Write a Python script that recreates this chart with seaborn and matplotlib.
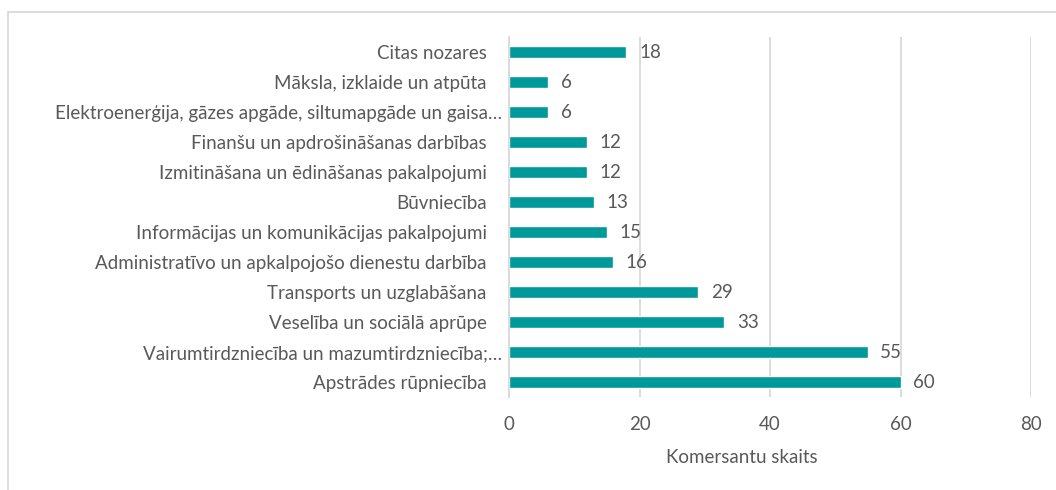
import matplotlib
matplotlib.use("Agg")
import matplotlib.pyplot as plt
import matplotlib.transforms as mtransforms
from matplotlib.lines import Line2D
import seaborn as sns
import pandas as pd

categories = [
    "Citas nozares",
    "Māksla, izklaide un atpūta",
    "Elektroenerģija, gāzes apgāde, siltumapgāde un gaisa…",
    "Finanšu un apdrošināšanas darbības",
    "Izmitināšana un ēdināšanas pakalpojumi",
    "Būvniecība",
    "Informācijas un komunikācijas pakalpojumi",
    "Administratīvo un apkalpojošo dienestu darbība",
    "Transports un uzglabāšana",
    "Veselība un sociālā aprūpe",
    "Vairumtirdzniecība un mazumtirdzniecība;…",
    "Apstrādes rūpniecība",
]
values = [18, 6, 6, 12, 12, 13, 15, 16, 29, 33, 55, 60]
xticks = [0, 20, 40, 60, 80]
xlabel = "Komersantu skaits"

sns.set_theme(style="white")
plt.rcParams["font.family"] = ["Lato", "DejaVu Sans"]

TEXT = "#595959"
GRID = "#d9d9d9"
BAR = "#009999"
FS = 13.5

fig = plt.figure(figsize=(10.56, 4.9), dpi=100)
ax = fig.add_axes([509/1056, 1-397/490, (1031-509)/1056, (397-37)/490])

df = pd.DataFrame({"cat": categories, "val": values})
sns.barplot(data=df, x="val", y="cat", color=BAR, width=0.37, ax=ax,
            saturation=1, orient="h")

ax.set_xlim(0, 80)
ax.set_xticks(xticks)
ax.set_ylim(len(categories) - 0.5, -0.5)
ax.grid(axis="x", color=GRID, linewidth=1.3)
ax.grid(axis="y", visible=False)
ax.set_axisbelow(True)
for s in ["top", "right", "bottom"]:
    ax.spines[s].set_visible(False)
ax.spines["left"].set_color(GRID)
ax.spines["left"].set_linewidth(1.3)

ax.tick_params(axis="y", length=0, pad=16, labelsize=FS, labelcolor=TEXT)
ax.tick_params(axis="x", length=0, pad=14, labelsize=FS, labelcolor=TEXT)
ax.set_ylabel("")
ax.set_xlabel(xlabel, fontsize=FS, color=TEXT)
ax.xaxis.set_label_coords((742-509)/522, -0.145)

for lab in ax.get_yticklabels():
    if lab.get_text().endswith("…"):
        lab.set_transform(lab.get_transform() +
                          mtransforms.ScaledTranslation(15/100, 0, fig.dpi_scale_trans))

ax.bar_label(ax.containers[0], labels=[str(v) for v in values], padding=9,
             fontsize=FS, color=TEXT)

# outer frame (top and left edges visible)
fig.add_artist(Line2D([8/1056, 1.0], [1-12/490, 1-12/490], transform=fig.transFigure,
                      color=GRID, linewidth=1.3))
fig.add_artist(Line2D([8/1056, 8/1056], [0, 1-12/490], transform=fig.transFigure,
                      color=GRID, linewidth=1.3))

fig.savefig("out.png", dpi=100)
